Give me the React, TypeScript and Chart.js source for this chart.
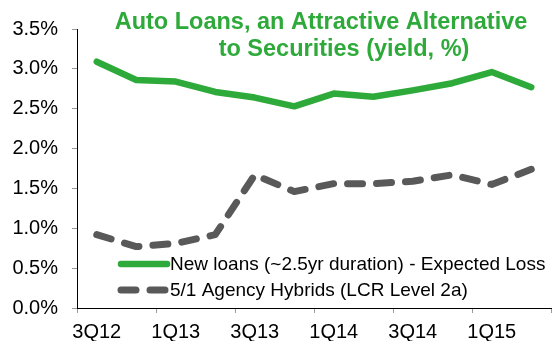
import React, { useEffect, useRef } from "react";
import { Chart, registerables } from "chart.js";

Chart.register(...registerables);

const quarters = ["3Q12", "4Q12", "1Q13", "2Q13", "3Q13", "4Q13", "1Q14", "2Q14", "3Q14", "4Q14", "1Q15", "2Q15"];
const newLoans = [3.09, 2.86, 2.84, 2.71, 2.64, 2.53, 2.69, 2.65, 2.73, 2.82, 2.96, 2.77];
const agencyHybrids = [0.92, 0.77, 0.81, 0.92, 1.67, 1.46, 1.56, 1.56, 1.59, 1.67, 1.55, 1.74];
const seriesNames = ["New loans (~2.5yr duration) - Expected Loss", "5/1 Agency Hybrids (LCR Level 2a)"];
const titleLines = ["Auto Loans, an Attractive Alternative", "to Securities (yield, %)"];
const yTicks = { min: 0, max: 3.5, step: 0.5 };

const GREEN = "#2EAA3A";
const GRAY = "#595959";
const FONT = "'Liberation Sans', Arial, sans-serif";

const overlayPlugin = {
  id: "overlay",
  afterDraw(chart: any) {
    const { ctx, chartArea } = chart;
    ctx.save();
    // Title
    ctx.fillStyle = GREEN;
    ctx.font = `bold 23.5px ${FONT}`;
    ctx.textAlign = "center";
    ctx.textBaseline = "alphabetic";
    ctx.fillText(titleLines[0], chartArea.left + 244, chartArea.top);
    ctx.fillText(titleLines[1], chartArea.left + 267, chartArea.top + 27);
    // Legend
    const x0 = chartArea.left + 44;
    const x1 = chartArea.left + 90;
    const ys = [chartArea.bottom - 44, chartArea.bottom - 18];
    chart.data.datasets.forEach((ds: any, i: number) => {
      const y = ys[i];
      ctx.beginPath();
      ctx.strokeStyle = ds.borderColor;
      ctx.lineWidth = ds.borderWidth;
      ctx.lineCap = "round";
      ctx.setLineDash(ds.borderDash || []);
      ctx.moveTo(x0, y);
      ctx.lineTo(x1, y);
      ctx.stroke();
      ctx.setLineDash([]);
      ctx.fillStyle = "#000";
      ctx.font = `19px ${FONT}`;
      ctx.textAlign = "left";
      ctx.textBaseline = "middle";
      ctx.fillText(ds.label, x1 + 3, y + 1);
    });
    ctx.restore();
  },
};

export default function App() {
  const ref = useRef<HTMLCanvasElement | null>(null);
  useEffect(() => {
    if (!ref.current) return;
    const chart = new Chart(ref.current, {
      type: "line",
      data: {
        labels: quarters,
        datasets: [
          {
            label: seriesNames[0],
            data: newLoans,
            borderColor: GREEN,
            backgroundColor: GREEN,
            borderWidth: 6.5,
            borderCapStyle: "round",
            borderJoinStyle: "round",
            pointRadius: 0,
            tension: 0,
            fill: false,
          },
          {
            label: seriesNames[1],
            data: agencyHybrids,
            borderColor: GRAY,
            backgroundColor: GRAY,
            borderWidth: 7,
            borderDash: [15, 14],
            borderCapStyle: "round",
            borderJoinStyle: "round",
            pointRadius: 0,
            tension: 0,
            fill: false,
          },
        ],
      },
      options: {
        animation: false,
        responsive: true,
        maintainAspectRatio: false,
        layout: { padding: { top: 29, right: 2, left: 0, bottom: 0 } },
        plugins: { legend: { display: false }, tooltip: { enabled: false }, title: { display: false } },
        scales: {
          x: {
            type: "category",
            offset: true,
            grid: {
              offset: true,
              drawOnChartArea: false,
              drawTicks: true,
              tickLength: 5,
              tickColor: (c: any) => (c.index === undefined || c.index % 2 === 0 ? "#999" : "rgba(0,0,0,0)"),
              color: "rgba(0,0,0,0)",
            },
            border: { display: true, color: "#000", width: 1 },
            ticks: {
              autoSkip: false,
              maxRotation: 0,
              minRotation: 0,
              padding: 7,
              color: "#000",
              font: { family: FONT, size: 20 },
              callback: (_v: any, i: number) => (i % 2 === 0 ? quarters[i] : ""),
            },
            afterFit: (s: any) => {
              s.height = 33;
            },
          },
          y: {
            min: yTicks.min,
            max: yTicks.max,
            grid: { drawOnChartArea: false, drawTicks: true, tickLength: 5, color: "#999" },
            border: { display: true, color: "#000", width: 1 },
            ticks: {
              stepSize: yTicks.step,
              padding: 14,
              color: "#000",
              font: { family: FONT, size: 20 },
              callback: (v: any) => Number(v).toFixed(1) + "%",
            },
            afterFit: (s: any) => {
              s.width = 77;
            },
          },
        },
      },
      plugins: [overlayPlugin],
    } as any);
    return () => chart.destroy();
  }, []);
  return (
    <div style={{ position: "fixed", left: 0, top: 0, width: 553, height: 341, background: "#fff" }}>
      <canvas ref={ref} />
    </div>
  );
}
